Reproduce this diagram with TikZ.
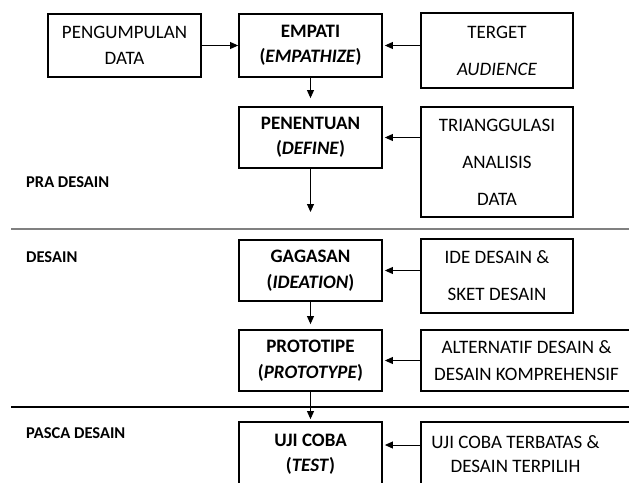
\documentclass[tikz,border=0pt]{standalone}
\usepackage{fontspec}
\setmainfont{Carlito}
\usetikzlibrary{arrows.meta}
\begin{document}
\begin{tikzpicture}[x=1pt,y=-1pt,
  box/.style={draw=black,line width=1.8pt,inner sep=0pt,align=center,
    font=\fontsize{19}{25.5}\selectfont},
  bbox/.style={box,font=\bfseries\fontsize{19}{25.5}\selectfont},
  tallbox/.style={box,font=\fontsize{19}{37}\selectfont},
  sect/.style={anchor=west,inner sep=0pt,font=\bfseries\fontsize{16.5}{20}\selectfont},
  arr/.style={line width=0.9pt,-{Triangle[length=8pt,width=7pt]}}]
\useasboundingbox (0,0) rectangle (629,482);
\clip (0,0) rectangle (629,482);

% separators
\draw[line width=1.5pt,draw=black!50] (11,229) -- (629,229);
\draw[line width=1.2pt,draw=black] (11,407) -- (629,407);

% section labels
\node[sect] (lpra) at (26,182) {PRA DESAIN};
\node[sect] (ldes) at (26,257) {DESAIN};
\node[sect] (lpas) at (26,433) {PASCA DESAIN};

% left column
\node[box,minimum width=153pt,minimum height=63pt] (pd) at (124.5,45.5) {PENGUMPULAN\\DATA};

% middle column
\node[bbox,minimum width=143pt,minimum height=63pt] (emp) at (310.5,45.5) {EMPATI\\(\textit{EMPATHIZE})};
\node[bbox,minimum width=143pt,minimum height=61pt] (def) at (310.5,137.5) {PENENTUAN\\(\textit{DEFINE})};
\node[bbox,minimum width=143pt,minimum height=61pt] (idea) at (310.5,270.5) {GAGASAN\\(\textit{IDEATION})};
\node[bbox,minimum width=143pt,minimum height=61pt] (proto) at (310.5,360.5) {PROTOTIPE\\(\textit{PROTOTYPE})};
\node[bbox,minimum width=143pt,minimum height=64pt] (test) at (310.5,454) {UJI COBA\\(\textit{TEST})};

% right column
\node[tallbox,minimum width=152pt,minimum height=75pt] (tgt) at (497,50.5) {TERGET\\\textit{AUDIENCE}};
\node[tallbox,minimum width=152pt,minimum height=110pt] (tri) at (497,162) {TRIANGGULASI\\ANALISIS\\DATA};
\node[tallbox,minimum width=152pt,minimum height=74pt] (ide) at (497,276) {IDE DESAIN \&\\SKET DESAIN};
\node[box,font=\fontsize{19}{27}\selectfont,minimum width=211pt,minimum height=61pt] (alt) at (526.5,360.5) {ALTERNATIF DESAIN \&\\DESAIN KOMPREHENSIF};
\node[box,font=\fontsize{19}{24}\selectfont,minimum width=211pt,minimum height=64pt] (uji) at (526.5,454) {UJI COBA TERBATAS \&\hspace*{22pt}\\DESAIN TERPILIH\hspace*{22pt}};

% free end
\coordinate (e1) at (310.5,212);

% connectors
\draw[arr] (pd.east) -- (emp.west);
\draw[arr,shorten >=2pt] (tgt.west |- emp.west) -- (emp.east);
\draw[arr,shorten >=8pt] (emp.south) -- (def.north);
\draw[arr,shorten >=2pt] (tri.west |- def.east) -- (def.east);
\draw[arr] (def.south) -- (e1);
\draw[arr,shorten >=2pt] (ide.west |- idea.east) -- (idea.east);
\draw[arr,shorten >=5pt] (idea.south) -- (proto.north);
\draw[arr,shorten >=2pt] (alt.west) -- (proto.east);
\draw[arr,shorten >=2pt] (proto.south) -- (test.north);
\draw[arr,shorten >=2pt] ([yshift=9pt]uji.west) -- ([yshift=9pt]test.east);
\end{tikzpicture}
\end{document}
